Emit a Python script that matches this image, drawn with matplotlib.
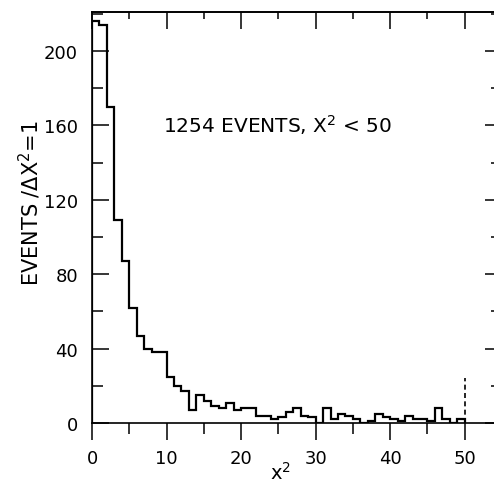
import numpy as np
import matplotlib
matplotlib.use('Agg')
import matplotlib.pyplot as plt

# histogram counts per unit chi^2 bin (0..50)
counts = [216, 214, 170, 109, 87, 62, 47, 40, 38, 38,
          25, 20, 17, 7, 15, 12, 9, 8, 11, 7,
          8, 8, 4, 4, 2, 3, 6, 8, 4, 3,
          0, 8, 2, 5, 4, 2, 0, 1, 5, 3,
          2, 1, 4, 2, 2, 1, 8, 2, 0, 2]
bin_edges = list(range(0, 51))
cut_x = 50
cut_top = 24
x_ticks = [0, 10, 20, 30, 40, 50]
x_minor = [5, 15, 25, 35, 45]
y_ticks = [0, 40, 80, 120, 160, 200]
y_minor = [20, 60, 100, 140, 180, 220]
annotation = "1254 EVENTS, X$^2$ < 50"
xlabel = "x$^2$"
ylabel = "EVENTS /ΔX$^2$=1"

plt.rcParams['font.family'] = ['DejaVu Sans']
plt.rcParams['mathtext.default'] = 'regular'

W, H = 494, 489
fig = plt.figure(figsize=(W / 100, H / 100), dpi=100)
ax = fig.add_axes([92 / W, 65 / H, 410 / W, 411 / H])

ax.stairs(counts, bin_edges, color='black', linewidth=1.6)
ax.vlines(cut_x, 0, cut_top, colors='black', linestyles=(0, (3, 2)), linewidth=1.2)

ax.set_xlim(0, 55)
ax.set_ylim(0, 221)

for s in ax.spines.values():
    s.set_linewidth(1.2)

ax.set_xticks(x_ticks)
ax.set_xticks(x_minor, minor=True)
ax.set_yticks(y_ticks)
ax.set_yticks(y_minor, minor=True)
ax.set_xticklabels([str(v) for v in x_ticks])
ax.set_yticklabels([str(v) for v in y_ticks])

ax.tick_params(axis='x', which='major', direction='out', length=12.5, width=1.1,
               labelsize=13, pad=6, top=False)
ax.tick_params(axis='x', which='minor', direction='out', length=8, width=1.1, top=False)
ax.tick_params(axis='y', which='major', direction='in', length=12.5, width=1.1,
               labelsize=13, pad=10, right=True)
ax.tick_params(axis='y', which='minor', direction='in', length=8, width=1.1, right=True)

top = ax.secondary_xaxis('top')
top.set_xticks(x_ticks)
top.set_xticks(x_minor, minor=True)
top.tick_params(which='major', direction='in', length=12.5, width=1.1, labeltop=False)
top.tick_params(which='minor', direction='in', length=5, width=1.1)
top.spines['top'].set_linewidth(1.2)

ax.text((163 - 92) / 410, (424 - 125) / 411, annotation, transform=ax.transAxes,
        fontsize=14.5, ha='left', va='center')

ax.set_xlabel(xlabel, fontsize=14)
ax.xaxis.set_label_coords((280 - 92) / 410, (424 - 462) / 411)
ax.set_ylabel(ylabel, fontsize=15)
ax.yaxis.set_label_coords((43 - 92) / 410, (424 - 203) / 411)

fig.savefig('out.png', dpi=100)
